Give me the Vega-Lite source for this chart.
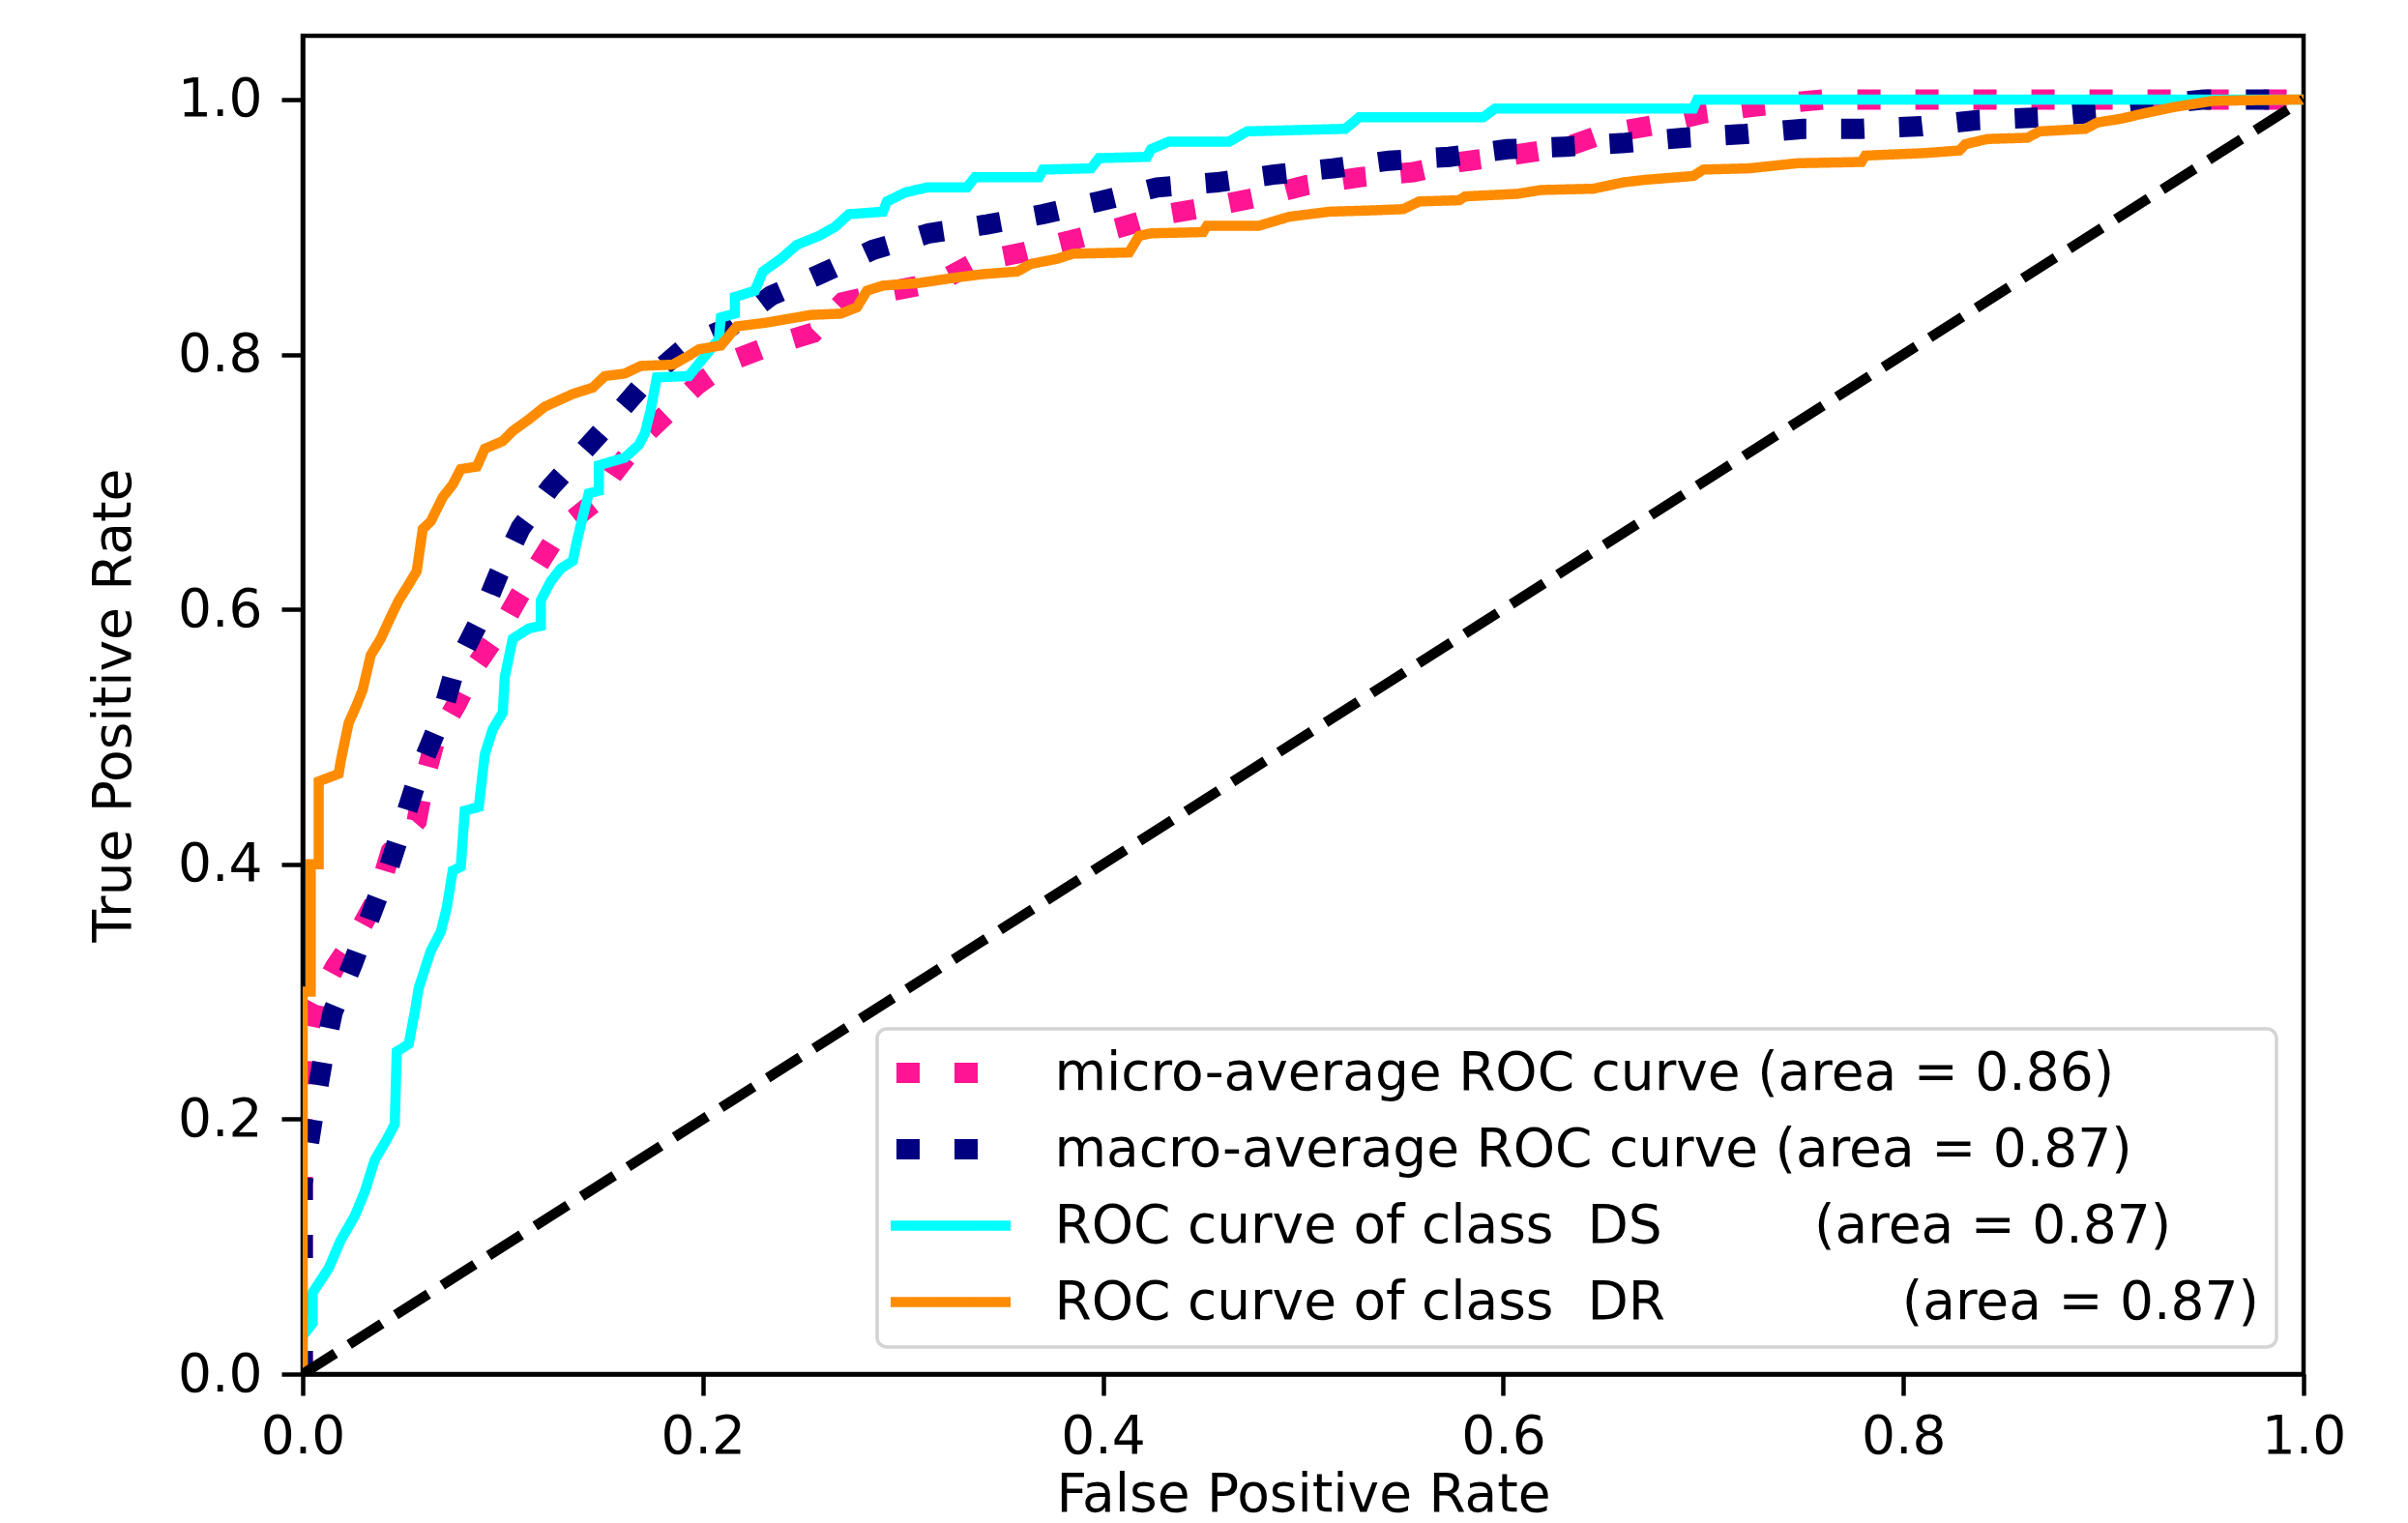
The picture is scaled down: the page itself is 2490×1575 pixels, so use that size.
{
  "$schema": "https://vega.github.io/schema/vega-lite/v6.json",
  "width": 2069,
  "height": 1384,
  "autosize": {"type": "none"},
  "padding": {"left": 313, "top": 37, "right": 108, "bottom": 154},
  "background": "#ffffff",
  "datasets": {
    "roc": [
      {"k":"micro","x":0,"y":0},{"k":"micro","x":0,"y":0.2},{"k":"micro","x":0.002,"y":0.26},{"k":"micro","x":0.006,"y":0.29},{"k":"micro","x":0.016,"y":0.319},{"k":"micro","x":0.028,"y":0.347},{"k":"micro","x":0.037,"y":0.373},{"k":"micro","x":0.044,"y":0.41},{"k":"micro","x":0.057,"y":0.434},{"k":"micro","x":0.061,"y":0.467},{"k":"micro","x":0.066,"y":0.496},{"k":"micro","x":0.077,"y":0.526},{"k":"micro","x":0.087,"y":0.557},{"k":"micro","x":0.098,"y":0.582},{"k":"micro","x":0.108,"y":0.61},{"k":"micro","x":0.119,"y":0.638},{"k":"micro","x":0.129,"y":0.663},{"k":"micro","x":0.145,"y":0.683},{"k":"micro","x":0.155,"y":0.706},{"k":"micro","x":0.169,"y":0.734},{"k":"micro","x":0.183,"y":0.755},{"k":"micro","x":0.197,"y":0.776},{"k":"micro","x":0.214,"y":0.795},{"k":"micro","x":0.234,"y":0.807},{"k":"micro","x":0.255,"y":0.817},{"k":"micro","x":0.27,"y":0.841},{"k":"micro","x":0.295,"y":0.85},{"k":"micro","x":0.318,"y":0.857},{"k":"micro","x":0.337,"y":0.873},{"k":"micro","x":0.36,"y":0.88},{"k":"micro","x":0.385,"y":0.89},{"k":"micro","x":0.407,"y":0.899},{"k":"micro","x":0.431,"y":0.91},{"k":"micro","x":0.454,"y":0.916},{"k":"micro","x":0.48,"y":0.924},{"k":"micro","x":0.502,"y":0.933},{"k":"micro","x":0.528,"y":0.939},{"k":"micro","x":0.555,"y":0.943},{"k":"micro","x":0.578,"y":0.951},{"k":"micro","x":0.603,"y":0.956},{"k":"micro","x":0.632,"y":0.963},{"k":"micro","x":0.65,"y":0.973},{"k":"micro","x":0.676,"y":0.98},{"k":"micro","x":0.7,"y":0.989},{"k":"micro","x":0.723,"y":0.994},{"k":"micro","x":0.753,"y":0.999},{"k":"micro","x":0.76,"y":1},{"k":"micro","x":1,"y":1},
      {"k":"macro","x":0,"y":0},{"k":"macro","x":0,"y":0.15},{"k":"macro","x":0.005,"y":0.2},{"k":"macro","x":0.01,"y":0.246},{"k":"macro","x":0.015,"y":0.284},{"k":"macro","x":0.025,"y":0.322},{"k":"macro","x":0.034,"y":0.36},{"k":"macro","x":0.043,"y":0.397},{"k":"macro","x":0.051,"y":0.436},{"k":"macro","x":0.059,"y":0.476},{"k":"macro","x":0.069,"y":0.514},{"k":"macro","x":0.076,"y":0.553},{"k":"macro","x":0.088,"y":0.59},{"k":"macro","x":0.098,"y":0.628},{"k":"macro","x":0.109,"y":0.664},{"k":"macro","x":0.124,"y":0.696},{"k":"macro","x":0.141,"y":0.725},{"k":"macro","x":0.157,"y":0.753},{"k":"macro","x":0.172,"y":0.78},{"k":"macro","x":0.193,"y":0.808},{"k":"macro","x":0.214,"y":0.822},{"k":"macro","x":0.234,"y":0.846},{"k":"macro","x":0.26,"y":0.864},{"k":"macro","x":0.285,"y":0.882},{"k":"macro","x":0.313,"y":0.895},{"k":"macro","x":0.342,"y":0.902},{"k":"macro","x":0.37,"y":0.91},{"k":"macro","x":0.398,"y":0.92},{"k":"macro","x":0.427,"y":0.931},{"k":"macro","x":0.457,"y":0.935},{"k":"macro","x":0.485,"y":0.941},{"k":"macro","x":0.515,"y":0.946},{"k":"macro","x":0.543,"y":0.952},{"k":"macro","x":0.573,"y":0.955},{"k":"macro","x":0.602,"y":0.961},{"k":"macro","x":0.631,"y":0.963},{"k":"macro","x":0.661,"y":0.966},{"k":"macro","x":0.69,"y":0.97},{"k":"macro","x":0.721,"y":0.973},{"k":"macro","x":0.75,"y":0.977},{"k":"macro","x":0.779,"y":0.977},{"k":"macro","x":0.809,"y":0.979},{"k":"macro","x":0.838,"y":0.984},{"k":"macro","x":0.868,"y":0.986},{"k":"macro","x":0.897,"y":0.99},{"k":"macro","x":0.926,"y":0.996},{"k":"macro","x":0.95,"y":1},{"k":"macro","x":1,"y":1},
      {"k":"DS","x":0,"y":0},{"k":"DS","x":0,"y":0.03},{"k":"DS","x":0.005,"y":0.04},{"k":"DS","x":0.005,"y":0.064},{"k":"DS","x":0.013,"y":0.083},{"k":"DS","x":0.019,"y":0.105},{"k":"DS","x":0.026,"y":0.124},{"k":"DS","x":0.031,"y":0.143},{"k":"DS","x":0.036,"y":0.168},{"k":"DS","x":0.042,"y":0.184},{"k":"DS","x":0.046,"y":0.196},{"k":"DS","x":0.047,"y":0.253},{"k":"DS","x":0.053,"y":0.259},{"k":"DS","x":0.056,"y":0.284},{"k":"DS","x":0.058,"y":0.303},{"k":"DS","x":0.064,"y":0.332},{"k":"DS","x":0.069,"y":0.347},{"k":"DS","x":0.072,"y":0.366},{"k":"DS","x":0.075,"y":0.395},{"k":"DS","x":0.079,"y":0.398},{"k":"DS","x":0.081,"y":0.442},{"k":"DS","x":0.088,"y":0.445},{"k":"DS","x":0.091,"y":0.486},{"k":"DS","x":0.095,"y":0.506},{"k":"DS","x":0.1,"y":0.519},{"k":"DS","x":0.101,"y":0.547},{"k":"DS","x":0.105,"y":0.577},{"k":"DS","x":0.113,"y":0.585},{"k":"DS","x":0.119,"y":0.587},{"k":"DS","x":0.119,"y":0.607},{"k":"DS","x":0.124,"y":0.622},{"k":"DS","x":0.129,"y":0.632},{"k":"DS","x":0.135,"y":0.638},{"k":"DS","x":0.137,"y":0.653},{"k":"DS","x":0.14,"y":0.673},{"k":"DS","x":0.143,"y":0.691},{"k":"DS","x":0.148,"y":0.693},{"k":"DS","x":0.148,"y":0.713},{"k":"DS","x":0.161,"y":0.719},{"k":"DS","x":0.168,"y":0.729},{"k":"DS","x":0.171,"y":0.738},{"k":"DS","x":0.174,"y":0.757},{"k":"DS","x":0.177,"y":0.782},{"k":"DS","x":0.193,"y":0.783},{"k":"DS","x":0.196,"y":0.789},{"k":"DS","x":0.208,"y":0.812},{"k":"DS","x":0.209,"y":0.829},{"k":"DS","x":0.216,"y":0.832},{"k":"DS","x":0.216,"y":0.845},{"k":"DS","x":0.226,"y":0.85},{"k":"DS","x":0.23,"y":0.865},{"k":"DS","x":0.239,"y":0.875},{"k":"DS","x":0.247,"y":0.886},{"k":"DS","x":0.258,"y":0.893},{"k":"DS","x":0.266,"y":0.9},{"k":"DS","x":0.273,"y":0.91},{"k":"DS","x":0.29,"y":0.912},{"k":"DS","x":0.292,"y":0.92},{"k":"DS","x":0.301,"y":0.927},{"k":"DS","x":0.312,"y":0.931},{"k":"DS","x":0.332,"y":0.931},{"k":"DS","x":0.336,"y":0.939},{"k":"DS","x":0.368,"y":0.939},{"k":"DS","x":0.37,"y":0.945},{"k":"DS","x":0.394,"y":0.946},{"k":"DS","x":0.398,"y":0.954},{"k":"DS","x":0.422,"y":0.955},{"k":"DS","x":0.424,"y":0.961},{"k":"DS","x":0.433,"y":0.967},{"k":"DS","x":0.463,"y":0.967},{"k":"DS","x":0.472,"y":0.975},{"k":"DS","x":0.521,"y":0.977},{"k":"DS","x":0.528,"y":0.986},{"k":"DS","x":0.59,"y":0.986},{"k":"DS","x":0.596,"y":0.993},{"k":"DS","x":0.695,"y":0.993},{"k":"DS","x":0.697,"y":1},{"k":"DS","x":1,"y":1},
      {"k":"DR","x":0,"y":0},{"k":"DR","x":0,"y":0.3},{"k":"DR","x":0.004,"y":0.3},{"k":"DR","x":0.004,"y":0.4},{"k":"DR","x":0.008,"y":0.4},{"k":"DR","x":0.008,"y":0.465},{"k":"DR","x":0.013,"y":0.468},{"k":"DR","x":0.018,"y":0.471},{"k":"DR","x":0.019,"y":0.481},{"k":"DR","x":0.023,"y":0.511},{"k":"DR","x":0.027,"y":0.525},{"k":"DR","x":0.03,"y":0.537},{"k":"DR","x":0.034,"y":0.564},{"k":"DR","x":0.039,"y":0.577},{"k":"DR","x":0.044,"y":0.594},{"k":"DR","x":0.048,"y":0.607},{"k":"DR","x":0.052,"y":0.617},{"k":"DR","x":0.057,"y":0.63},{"k":"DR","x":0.06,"y":0.663},{"k":"DR","x":0.064,"y":0.669},{"k":"DR","x":0.07,"y":0.688},{"k":"DR","x":0.075,"y":0.698},{"k":"DR","x":0.079,"y":0.71},{"k":"DR","x":0.087,"y":0.712},{"k":"DR","x":0.091,"y":0.726},{"k":"DR","x":0.1,"y":0.732},{"k":"DR","x":0.105,"y":0.74},{"k":"DR","x":0.113,"y":0.749},{"k":"DR","x":0.121,"y":0.759},{"k":"DR","x":0.135,"y":0.769},{"k":"DR","x":0.145,"y":0.774},{"k":"DR","x":0.151,"y":0.783},{"k":"DR","x":0.161,"y":0.785},{"k":"DR","x":0.169,"y":0.791},{"k":"DR","x":0.185,"y":0.792},{"k":"DR","x":0.193,"y":0.799},{"k":"DR","x":0.198,"y":0.804},{"k":"DR","x":0.209,"y":0.807},{"k":"DR","x":0.217,"y":0.822},{"k":"DR","x":0.232,"y":0.825},{"k":"DR","x":0.254,"y":0.831},{"k":"DR","x":0.269,"y":0.832},{"k":"DR","x":0.277,"y":0.837},{"k":"DR","x":0.282,"y":0.85},{"k":"DR","x":0.29,"y":0.854},{"k":"DR","x":0.308,"y":0.856},{"k":"DR","x":0.325,"y":0.86},{"k":"DR","x":0.34,"y":0.863},{"k":"DR","x":0.357,"y":0.865},{"k":"DR","x":0.364,"y":0.871},{"k":"DR","x":0.377,"y":0.875},{"k":"DR","x":0.385,"y":0.879},{"k":"DR","x":0.413,"y":0.88},{"k":"DR","x":0.418,"y":0.893},{"k":"DR","x":0.424,"y":0.895},{"k":"DR","x":0.45,"y":0.896},{"k":"DR","x":0.452,"y":0.901},{"k":"DR","x":0.478,"y":0.901},{"k":"DR","x":0.493,"y":0.908},{"k":"DR","x":0.513,"y":0.912},{"k":"DR","x":0.534,"y":0.913},{"k":"DR","x":0.55,"y":0.914},{"k":"DR","x":0.558,"y":0.92},{"k":"DR","x":0.578,"y":0.921},{"k":"DR","x":0.581,"y":0.924},{"k":"DR","x":0.607,"y":0.926},{"k":"DR","x":0.619,"y":0.929},{"k":"DR","x":0.645,"y":0.93},{"k":"DR","x":0.66,"y":0.935},{"k":"DR","x":0.671,"y":0.937},{"k":"DR","x":0.695,"y":0.94},{"k":"DR","x":0.7,"y":0.945},{"k":"DR","x":0.723,"y":0.946},{"k":"DR","x":0.747,"y":0.95},{"k":"DR","x":0.779,"y":0.951},{"k":"DR","x":0.781,"y":0.956},{"k":"DR","x":0.811,"y":0.958},{"k":"DR","x":0.828,"y":0.96},{"k":"DR","x":0.831,"y":0.965},{"k":"DR","x":0.842,"y":0.969},{"k":"DR","x":0.862,"y":0.97},{"k":"DR","x":0.868,"y":0.975},{"k":"DR","x":0.891,"y":0.977},{"k":"DR","x":0.897,"y":0.982},{"k":"DR","x":0.909,"y":0.985},{"k":"DR","x":0.92,"y":0.989},{"k":"DR","x":0.935,"y":0.994},{"k":"DR","x":0.955,"y":0.999},{"k":"DR","x":1,"y":1}
    ],
    "diag": [{"x":0,"y":0},{"x":1,"y":1}]
  },
  "encoding": {
    "x": {"field": "x", "type": "quantitative", "scale": {"domain": [0, 1], "nice": false, "zero": false},
      "axis": {"title": "False Positive Rate", "values": [0, 0.2, 0.4, 0.6, 0.8, 1], "format": ".1f", "labelPadding": 16, "titlePadding": 6, "labelFlush": false}},
    "y": {"field": "y", "type": "quantitative", "scale": {"domain": [0, 1.05], "nice": false, "zero": false},
      "axis": {"title": "True Positive Rate", "values": [0, 0.2, 0.4, 0.6, 0.8, 1], "format": ".1f", "labelPadding": 20, "titlePadding": 37}},
    "color": {"field": "k", "type": "nominal",
      "scale": {"domain": ["micro", "macro", "DS", "DR"], "range": ["#ff1493", "#000080", "#00ffff", "#ff8c00"]},
      "legend": {"title": null, "labelExpr": "datum.value == 'micro' ? 'micro-average ROC curve (area = 0.86)' : datum.value == 'macro' ? 'macro-average ROC curve (area = 0.87)' : datum.value == 'DS' ? 'ROC curve of class\u00a0\u00a0DS\u00a0\u00a0\u00a0\u00a0\u00a0\u00a0\u00a0\u00a0\u00a0(area = 0.87)' : 'ROC curve of class\u00a0\u00a0DR\u00a0\u00a0\u00a0\u00a0\u00a0\u00a0\u00a0\u00a0\u00a0\u00a0\u00a0\u00a0\u00a0\u00a0(area = 0.87)\u00a0'", "encode": {"legend": {"update": {"strokeWidth": {"value": 3.5}}}, "symbols": {"update": {"strokeJoin": {"value": "bevel"}}}}}},
    "strokeDash": {"field": "k", "type": "nominal",
      "scale": {"domain": ["micro", "macro", "DS", "DR"], "range": [[24, 36], [24, 36], [1, 0], [1, 0]]},
      "legend": {"title": null, "labelExpr": "datum.value == 'micro' ? 'micro-average ROC curve (area = 0.86)' : datum.value == 'macro' ? 'macro-average ROC curve (area = 0.87)' : datum.value == 'DS' ? 'ROC curve of class\u00a0\u00a0DS\u00a0\u00a0\u00a0\u00a0\u00a0\u00a0\u00a0\u00a0\u00a0(area = 0.87)' : 'ROC curve of class\u00a0\u00a0DR\u00a0\u00a0\u00a0\u00a0\u00a0\u00a0\u00a0\u00a0\u00a0\u00a0\u00a0\u00a0\u00a0\u00a0(area = 0.87)\u00a0'", "encode": {"legend": {"update": {"strokeWidth": {"value": 3.5}}}, "symbols": {"update": {"strokeJoin": {"value": "bevel"}}}}}},
    "strokeWidth": {"field": "k", "type": "nominal",
      "scale": {"type": "ordinal", "domain": ["micro", "macro", "DS", "DR"], "range": [21, 21, 10.5, 10.5]},
      "legend": {"title": null, "labelExpr": "datum.value == 'micro' ? 'micro-average ROC curve (area = 0.86)' : datum.value == 'macro' ? 'macro-average ROC curve (area = 0.87)' : datum.value == 'DS' ? 'ROC curve of class\u00a0\u00a0DS\u00a0\u00a0\u00a0\u00a0\u00a0\u00a0\u00a0\u00a0\u00a0(area = 0.87)' : 'ROC curve of class\u00a0\u00a0DR\u00a0\u00a0\u00a0\u00a0\u00a0\u00a0\u00a0\u00a0\u00a0\u00a0\u00a0\u00a0\u00a0\u00a0(area = 0.87)\u00a0'", "encode": {"legend": {"update": {"strokeWidth": {"value": 3.5}}}, "symbols": {"update": {"strokeJoin": {"value": "bevel"}}}}}},
    "order": {"value": null}
  },
  "layer": [
    {"data": {"name": "roc"}, "transform": [{"filter": "datum.k == 'micro'"}], "mark": {"type": "line", "clip": true, "strokeCap": "butt", "strokeJoin": "miter"}},
    {"data": {"name": "roc"}, "transform": [{"filter": "datum.k == 'macro'"}], "mark": {"type": "line", "clip": true, "strokeCap": "butt", "strokeJoin": "miter"}},
    {"data": {"name": "roc"}, "transform": [{"filter": "datum.k == 'DS'"}], "mark": {"type": "line", "clip": true, "strokeCap": "butt", "strokeJoin": "miter"}},
    {"data": {"name": "roc"}, "transform": [{"filter": "datum.k == 'DR'"}], "mark": {"type": "line", "clip": true, "strokeCap": "butt", "strokeJoin": "miter"}},
    {"data": {"name": "diag"}, "mark": {"type": "line", "clip": true, "strokeCap": "butt"},
      "encoding": {"color": {"value": "#000000"}, "strokeDash": {"value": [40, 17]}, "strokeWidth": {"value": 10.5}}}
  ],
  "config": {
    "view": {"stroke": "#000000", "strokeWidth": 4.5},
    "font": "DejaVu Sans",
    "axis": {"domainColor": "#000000", "domainWidth": 4.5, "tickColor": "#000000", "tickWidth": 4.5, "tickSize": 22,
      "labelFont": "DejaVu Sans", "labelFontSize": 55, "labelColor": "#000000",
      "titleFont": "DejaVu Sans", "titleFontSize": 55, "titleFontWeight": "normal", "titleColor": "#000000",
      "grid": false, "zindex": 1, "labelOverlap": false, "labelBound": false},
    "legend": {"orient": "bottom-right", "offset": 28, "symbolType": "M-4.77,0H4.77", "symbolSize": 676,
      "symbolOffset": 30.5, "symbolDashOffset": 54,
      "labelFont": "DejaVu Sans", "labelFontSize": 55, "labelColor": "#000000", "labelLimit": 3000, "labelOffset": 80,
      "rowPadding": 23, "padding": 18, "strokeColor": "#d4d4d4", "fillColor": "#ffffff", "cornerRadius": 10}
  }
}
